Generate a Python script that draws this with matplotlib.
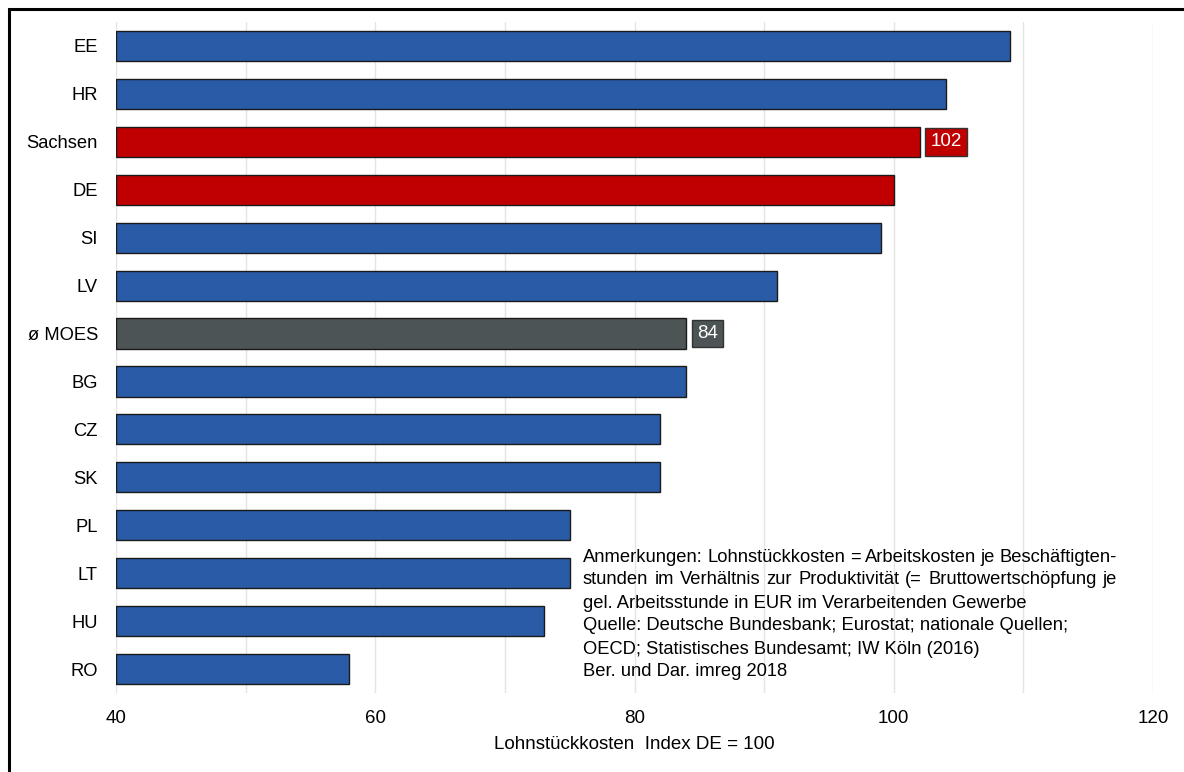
import matplotlib
matplotlib.use("Agg")
import matplotlib.pyplot as plt
from matplotlib.patches import Rectangle
import numpy as np

plt.rcParams['font.family'] = ['Liberation Sans', 'DejaVu Sans']

# Lohnstückkosten, Index DE = 100
laender = ['EE', 'HR', 'Sachsen', 'DE', 'SI', 'LV', 'ø MOES', 'BG', 'CZ', 'SK', 'PL', 'LT', 'HU', 'RO']
werte = [109, 104, 102, 100, 99, 91, 84, 84, 82, 82, 75, 75, 73, 58]
beschriftet = {'Sachsen': 102, 'ø MOES': 84}

BLAU = '#2a5ba6'
ROT = '#c00000'
GRAU = '#4d5455'
farben = {'Sachsen': ROT, 'DE': ROT, 'ø MOES': GRAU}

anm_zeilen = [
    ('Anmerkungen:  Lohnstückkosten = Arbeitskosten je Beschäftigten-', True),
    ('stunden im Verhältnis zur Produktivität (= Bruttowertschöpfung je', True),
    ('gel. Arbeitsstunde in EUR im Verarbeitenden Gewerbe', False),
    ('Quelle: Deutsche Bundesbank; Eurostat; nationale Quellen;', False),
    ('OECD; Statistisches Bundesamt; IW Köln (2016)', False),
    ('Ber. und Dar. imreg 2018', False),
]

W, H = 1184, 772
FS = 13.5
fig = plt.figure(figsize=(W / 100, H / 100), dpi=100)
ax = fig.add_axes([116 / W, 1 - 693 / H, (1153 - 116) / W, (693 - 22) / H])

y = np.arange(len(laender))
cols = [farben.get(l, BLAU) for l in laender]
ax.barh(y, np.array(werte) - 40, left=40, height=0.63, color=cols,
        edgecolor='#1a1a1a', linewidth=1.0, zorder=3)

for l, v, c in zip(laender, werte, cols):
    if l in beschriftet:
        ax.text(v + 0.85, laender.index(l), str(beschriftet[l]), ha='left', va='center',
                color='white', fontsize=FS, zorder=4,
                bbox=dict(boxstyle='square,pad=0.28', fc=c, ec='#333333', lw=1.0))

ax.set_xlim(40, 120)
ax.set_ylim(len(laender) - 0.5, -0.5)
ax.set_yticks(y)
ax.set_yticklabels(laender, fontsize=13.2)
ax.set_xticks([40, 60, 80, 100, 120])
ax.set_xticks(np.arange(40, 121, 10), minor=True)
ax.tick_params(axis='x', labelsize=FS, length=0, pad=12, which='both')
ax.tick_params(axis='y', length=0, pad=13)
ax.grid(axis='x', which='both', color='#e4e4e4', linewidth=1.0, zorder=0)
ax.set_axisbelow(True)
for s in ax.spines.values():
    s.set_visible(False)
ax.set_xlabel('Lohnstückkosten  Index DE = 100', fontsize=13.5, labelpad=7)

# Anmerkungen, erste zwei Zeilen im Blocksatz
renderer = fig.canvas.get_renderer()
x0, x1 = 583, 1117
AFS = 13.2
for i, (zeile, block) in enumerate(anm_zeilen):
    ypix = 557 + i * 23
    yf = 1 - ypix / H
    if not block:
        fig.text(x0 / W, yf, zeile, fontsize=AFS, ha='left', va='center')
        continue
    woerter = zeile.split()
    texte = [fig.text(0, yf, w, fontsize=AFS, ha='left', va='center') for w in woerter]
    breiten = [t.get_window_extent(renderer).width for t in texte]
    luecke = (x1 - x0 - sum(breiten)) / (len(woerter) - 1)
    xp = x0
    for t, b in zip(texte, breiten):
        t.set_x(xp / W)
        xp += b + luecke

# Rahmen um die Grafik
fig.patches.append(Rectangle((9 / W, -0.05), 1.1, 1 - 9 / H + 0.05, transform=fig.transFigure,
                             fill=False, edgecolor='black', linewidth=2.2))

fig.savefig('out.png', dpi=100)
